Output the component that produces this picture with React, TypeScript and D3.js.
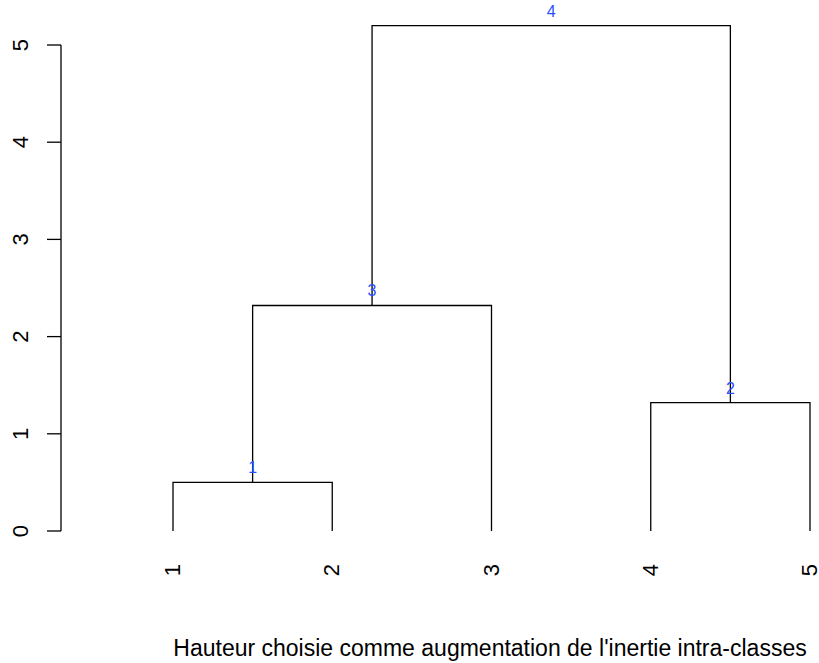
import * as d3 from 'd3'

// hclust-style merge table: negative = leaf, positive = earlier merge
const leafLabels = ['1', '2', '3', '4', '5']
const mergeLeft = [-1, -4, -3, 3]
const mergeRight = [-2, -5, 1, 2]
const mergeHeights = [0.5, 1.32, 2.32, 5.2]
const mergeLabels = ['1', '2', '3', '4']
const yTicks = [0, 1, 2, 3, 4, 5]
const title = "Hauteur choisie comme augmentation de l'inertie intra-classes"

const W = 819
const H = 663
const font = 'Liberation Sans, Arial, Helvetica, sans-serif'

export default function App() {
  const x = d3.scaleLinear().domain([1, 5]).range([173, 810])
  const y = d3.scaleLinear().domain([0, 5]).range([531, 45])

  // compute merge positions
  const pos: { x: number; h: number }[] = []
  const nodeX = (id: number) => (id < 0 ? x(-id) : pos[id - 1].x)
  const nodeH = (id: number) => (id < 0 ? 0 : pos[id - 1].h)
  const paths: string[] = []
  mergeLeft.forEach((l, i) => {
    const r = mergeRight[i]
    const h = mergeHeights[i]
    const xl = nodeX(l)
    const xr = nodeX(r)
    const p = d3.path()
    p.moveTo(xl, y(nodeH(l)))
    p.lineTo(xl, y(h))
    p.lineTo(xr, y(h))
    p.lineTo(xr, y(nodeH(r)))
    paths.push(p.toString())
    pos.push({ x: (xl + xr) / 2, h })
  })

  return (
    <svg
      width={W}
      height={H}
      style={{ position: 'absolute', left: 0, top: 0, background: '#fff' }}
      fontFamily={font}
    >
      {/* y axis */}
      <line x1={61} x2={61} y1={y(0)} y2={y(5)} stroke="#000" strokeWidth={1.3} />
      {yTicks.map(t => (
        <g key={t}>
          <line x1={47} x2={61} y1={y(t)} y2={y(t)} stroke="#000" strokeWidth={1.3} />
          <text
            transform={`translate(28,${y(t)}) rotate(-90)`}
            textAnchor="middle"
            fontSize={22}
            fill="#000"
          >
            {t}
          </text>
        </g>
      ))}

      {/* dendrogram */}
      {paths.map((d, i) => (
        <path key={i} d={d} fill="none" stroke="#000" strokeWidth={1.3} />
      ))}

      {/* merge labels */}
      {pos.map((p, i) => (
        <text
          key={i}
          x={p.x}
          y={y(p.h) - 9}
          textAnchor="middle"
          fontSize={16}
          fill="#2a4fff"
        >
          {mergeLabels[i]}
        </text>
      ))}

      {/* leaf labels */}
      {leafLabels.map((lab, i) => (
        <text
          key={lab}
          transform={`translate(${x(i + 1) + 7},570) rotate(-90)`}
          textAnchor="middle"
          fontSize={22}
          fill="#000"
        >
          {lab}
        </text>
      ))}

      <text x={490} y={656} textAnchor="middle" fontSize={23} fill="#000">
        {title}
      </text>
    </svg>
  )
}
